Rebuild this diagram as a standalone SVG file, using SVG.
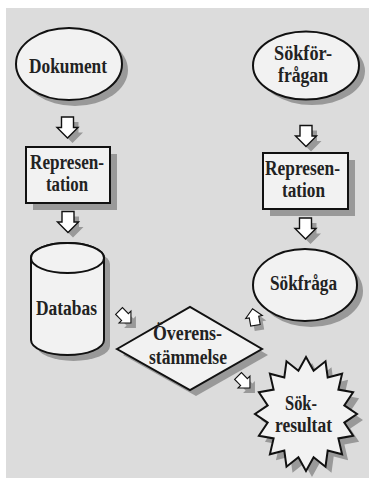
<svg xmlns="http://www.w3.org/2000/svg" width="369" height="479" viewBox="0 0 369 479">
  <style>
    .shape { fill: #f2f2f2; stroke: #111; stroke-width: 2; }
    .shadow { fill: #999; stroke: none; }
    .arrow { fill: #fff; stroke: #111; stroke-width: 1.4; stroke-linejoin: miter; }
    .lbl { font-family: "Liberation Serif", "Times New Roman", serif; font-weight: bold; font-size: 20px; fill: #222; text-anchor: middle; }
  </style>
  <defs>
    <!-- hollow block arrow pointing down, centred on the origin -->
    <path id="blk" d="M -6,-10.5 H 6 V 0 H 10.5 L 0,10.5 L -10.5,0 H -6 Z"/>
  </defs>

  <rect x="6" y="8" width="363" height="470" fill="#dcdcdc"/>

  <g id="dokument">
    <ellipse class="shadow" cx="75" cy="70" rx="53" ry="36"/>
    <ellipse class="shape" cx="69" cy="64" rx="53" ry="36"/>
    <text class="lbl" x="68" y="73" textLength="78" lengthAdjust="spacingAndGlyphs">Dokument</text>
  </g>

  <g id="representation-left">
    <rect class="shadow" x="33" y="154" width="84" height="56"/>
    <rect class="shape" x="26" y="147" width="84" height="56"/>
    <text class="lbl" x="67" y="169" textLength="74" lengthAdjust="spacingAndGlyphs">Represen-</text>
    <text class="lbl" x="67" y="191" textLength="42" lengthAdjust="spacingAndGlyphs">tation</text>
  </g>

  <g id="databas">
    <path class="shadow" d="M37,264 V346 A36.5,15 0 0 0 110,346 V264 A36.5,15 0 0 0 37,264 Z"/>
    <path class="shape" d="M31,258 V340 A36.5,15 0 0 0 104,340 V258 A36.5,15 0 0 0 31,258 Z"/>
    <ellipse class="shape" cx="67.5" cy="258" rx="36.5" ry="15"/>
    <text class="lbl" x="66.5" y="315" textLength="61" lengthAdjust="spacingAndGlyphs">Databas</text>
  </g>

  <g id="sokforfragan">
    <ellipse class="shadow" cx="312" cy="71" rx="53" ry="34"/>
    <ellipse class="shape" cx="306" cy="65.5" rx="53" ry="34"/>
    <text class="lbl" x="303" y="60" textLength="58" lengthAdjust="spacingAndGlyphs">Sökför-</text>
    <text class="lbl" x="303" y="82" textLength="50" lengthAdjust="spacingAndGlyphs">frågan</text>
  </g>

  <g id="representation-right">
    <rect class="shadow" x="270" y="160" width="85" height="56"/>
    <rect class="shape" x="263" y="153" width="85" height="56"/>
    <text class="lbl" x="302.5" y="175" textLength="75" lengthAdjust="spacingAndGlyphs">Represen-</text>
    <text class="lbl" x="303.5" y="197" textLength="43" lengthAdjust="spacingAndGlyphs">tation</text>
  </g>

  <g id="sokfraga">
    <ellipse class="shadow" cx="311" cy="291" rx="52" ry="36"/>
    <ellipse class="shape" cx="305" cy="285" rx="52" ry="36"/>
    <text class="lbl" x="303.5" y="290" textLength="67" lengthAdjust="spacingAndGlyphs">Sökfråga</text>
  </g>

  <g id="overensstammelse">
    <polygon class="shadow" points="123,355 196,313 268,355 196,396"/>
    <polygon class="shape" points="117,349 190,307 262,349 190,390"/>
    <text class="lbl" x="187.5" y="340" textLength="69" lengthAdjust="spacingAndGlyphs">Överens-</text>
    <text class="lbl" x="188" y="364" textLength="78" lengthAdjust="spacingAndGlyphs">stämmelse</text>
  </g>

  <g id="sokresultat">
    <polygon class="shadow" transform="translate(6,6)" points="306,357 313.6,370.8 325.5,361.3 327.7,377.4 342.1,373.7 338.4,389.6 353.1,392.2 344.3,405.4 357,414 344.3,422.6 353.1,435.8 338.4,438.4 342.1,454.3 327.7,450.6 325.5,466.7 313.6,457.2 306,471 298.4,457.2 286.5,466.7 284.3,450.6 269.9,454.3 273.6,438.4 258.9,435.8 267.7,422.6 255,414 267.7,405.4 258.9,392.2 273.6,389.6 269.9,373.7 284.3,377.4 286.5,361.3 298.4,370.8"/>
    <polygon class="shape" points="306,357 313.6,370.8 325.5,361.3 327.7,377.4 342.1,373.7 338.4,389.6 353.1,392.2 344.3,405.4 357,414 344.3,422.6 353.1,435.8 338.4,438.4 342.1,454.3 327.7,450.6 325.5,466.7 313.6,457.2 306,471 298.4,457.2 286.5,466.7 284.3,450.6 269.9,454.3 273.6,438.4 258.9,435.8 267.7,422.6 255,414 267.7,405.4 258.9,392.2 273.6,389.6 269.9,373.7 284.3,377.4 286.5,361.3 298.4,370.8"/>
    <text class="lbl" x="301" y="410" textLength="32" lengthAdjust="spacingAndGlyphs">Sök-</text>
    <text class="lbl" x="303.5" y="432" textLength="57" lengthAdjust="spacingAndGlyphs">resultat</text>
  </g>

  <g id="connectors">
    <!-- shadows first -->
    <use href="#blk" class="shadow" transform="translate(72.5,132.5)"/>
    <use href="#blk" class="shadow" transform="translate(73,227)"/>
    <use href="#blk" class="shadow" transform="translate(311,141)"/>
    <use href="#blk" class="shadow" transform="translate(310.5,233.5)"/>
    <use href="#blk" class="shadow" transform="translate(130,322) rotate(-45) scale(0.8)"/>
    <use href="#blk" class="shadow" transform="translate(258,322) rotate(170) scale(0.8)"/>
    <use href="#blk" class="shadow" transform="translate(249,387) rotate(-45) scale(0.8)"/>
    <!-- arrows -->
    <use href="#blk" class="arrow" transform="translate(67.5,127.5)"/>
    <use href="#blk" class="arrow" transform="translate(68,222)"/>
    <use href="#blk" class="arrow" transform="translate(306,136)"/>
    <use href="#blk" class="arrow" transform="translate(305.5,228.5)"/>
    <use href="#blk" class="arrow" transform="translate(125,317) rotate(-45) scale(0.8)"/>
    <use href="#blk" class="arrow" transform="translate(254,317) rotate(170) scale(0.8)"/>
    <use href="#blk" class="arrow" transform="translate(244,382) rotate(-45) scale(0.8)"/>
  </g>
</svg>
